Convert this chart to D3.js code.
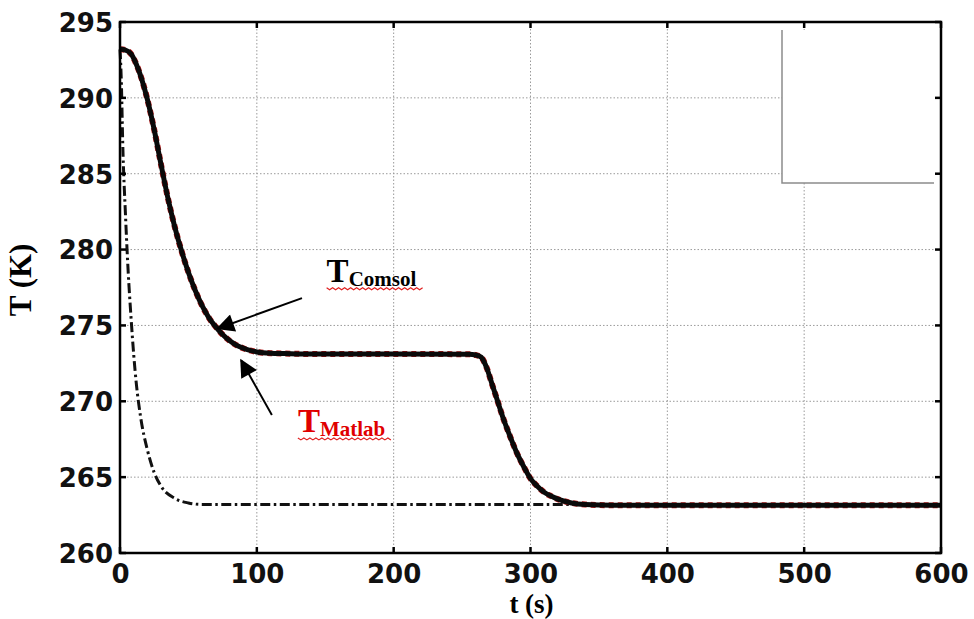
<!DOCTYPE html>
<html>
<head>
<meta charset="utf-8">
<script src="https://cdn.jsdelivr.net/npm/d3@7"></script>
<style>
  body { margin: 0; background: #fff; }
  svg { display: block; }
</style>
</head>
<body>
<svg id="chart" width="974" height="619"></svg>
<script>
// readings
const xTicks = [0, 100, 200, 300, 400, 500, 600];
const yTicks = [260, 265, 270, 275, 280, 285, 290, 295];

const timeMain = [0, 4, 8, 12, 16, 20, 25, 30, 35, 40, 45, 50, 55, 60, 65, 70, 75, 80, 85, 90, 95, 100, 110, 120, 140, 200, 255, 260, 264, 268, 272, 276, 280, 285, 290, 295, 300, 305, 310, 315, 320, 330, 340, 360, 600];
const tempComsol = [293.2, 293.15, 292.9, 292.2, 291.2, 289.9, 287.9, 285.6, 283.4, 281.5, 279.9, 278.5, 277.3, 276.3, 275.5, 274.9, 274.4, 274.0, 273.7, 273.5, 273.35, 273.25, 273.17, 273.15, 273.12, 273.12, 273.1, 273.05, 272.9, 272.2, 271.1, 270.0, 268.9, 267.7, 266.6, 265.7, 264.9, 264.4, 264.0, 263.75, 263.55, 263.3, 263.2, 263.15, 263.15];
const tempMatlab = [293.2, 293.15, 292.9, 292.2, 291.2, 289.9, 287.9, 285.6, 283.4, 281.5, 279.9, 278.5, 277.3, 276.3, 275.5, 274.9, 274.4, 274.0, 273.7, 273.5, 273.35, 273.25, 273.17, 273.15, 273.12, 273.12, 273.1, 273.05, 272.9, 272.2, 271.1, 270.0, 268.9, 267.7, 266.6, 265.7, 264.9, 264.4, 264.0, 263.75, 263.55, 263.3, 263.2, 263.15, 263.15];

const timeFast = [0, 1, 2, 4, 6, 8, 10, 12, 15, 20, 25, 30, 40, 50, 60, 600];
const tempFast = [293.2, 291.0, 287.0, 282.3, 278.5, 275.6, 273.1, 271.1, 269.0, 266.8, 265.3, 264.4, 263.6, 263.3, 263.2, 263.2];

const svg = d3.select("#chart");
const margin = { top: 22, right: 33, bottom: 66, left: 120 };
const width = 974 - margin.left - margin.right;
const height = 619 - margin.top - margin.bottom;

const chart = svg.append("g")
  .attr("transform", `translate(${margin.left}, ${margin.top})`);

const x = d3.scaleLinear().domain([0, 600]).range([0, width]);
const y = d3.scaleLinear().domain([260, 295]).range([height, 0]);

// grid
chart.append("g")
  .selectAll("line")
  .data(xTicks.slice(1, -1))
  .enter()
  .append("line")
  .attr("x1", d => x(d)).attr("x2", d => x(d))
  .attr("y1", 0).attr("y2", height)
  .attr("stroke", "#9a9a9a")
  .attr("stroke-width", 1)
  .attr("stroke-dasharray", "1.5,2");
chart.append("g")
  .selectAll("line")
  .data(yTicks.slice(1, -1))
  .enter()
  .append("line")
  .attr("x1", 0).attr("x2", width)
  .attr("y1", d => y(d)).attr("y2", d => y(d))
  .attr("stroke", "#9a9a9a")
  .attr("stroke-width", 1)
  .attr("stroke-dasharray", "1.5,2");

// empty legend box
chart.append("rect")
  .attr("x", 662).attr("y", 8)
  .attr("width", 152).attr("height", 153)
  .attr("fill", "#fff");
chart.append("path")
  .attr("d", "M662,8 V161 H814")
  .attr("fill", "none")
  .attr("stroke", "#8c8c8c")
  .attr("stroke-width", 1.5);

// curves
const line = d3.line()
  .x(d => x(d[0]))
  .y(d => y(d[1]))
  .curve(d3.curveMonotoneX);

chart.append("path")
  .attr("d", line(timeFast.map((t, i) => [t, tempFast[i]])))
  .attr("fill", "none")
  .attr("stroke", "#111")
  .attr("stroke-width", 3)
  .attr("stroke-dasharray", "10,3.5,2.5,3.5");

chart.append("path")
  .attr("d", line(timeMain.map((t, i) => [t, tempMatlab[i]])))
  .attr("fill", "none")
  .attr("stroke", "#b81818")
  .attr("stroke-width", 6)
  .attr("stroke-dasharray", "5,4");

chart.append("path")
  .attr("d", line(timeMain.map((t, i) => [t, tempComsol[i]])))
  .attr("fill", "none")
  .attr("stroke", "#0a0a0a")
  .attr("stroke-width", 5);

// axes
const font = "'DejaVu Sans', sans-serif";
const xAxis = chart.append("g")
  .attr("transform", `translate(0, ${height})`)
  .call(d3.axisBottom(x).tickValues(xTicks).tickSize(0).tickPadding(12));
const yAxis = chart.append("g")
  .call(d3.axisLeft(y).tickValues(yTicks).tickSize(0).tickPadding(7));
[xAxis, yAxis].forEach(a => {
  a.select(".domain").remove();
  a.selectAll("text")
    .style("font-family", font)
    .style("font-weight", "bold")
    .style("font-size", "26px")
    .attr("fill", "#111");
});
yAxis.selectAll("text").attr("dy", "0.36em");

// inward ticks on all four sides
const tickLen = 6;
const ticks = chart.append("g").attr("stroke", "#000").attr("stroke-width", 2.5);
xTicks.forEach(t => {
  ticks.append("line").attr("x1", x(t)).attr("x2", x(t)).attr("y1", height).attr("y2", height - tickLen);
  ticks.append("line").attr("x1", x(t)).attr("x2", x(t)).attr("y1", 0).attr("y2", tickLen);
});
yTicks.forEach(v => {
  ticks.append("line").attr("x1", 0).attr("x2", tickLen).attr("y1", y(v)).attr("y2", y(v));
  ticks.append("line").attr("x1", width).attr("x2", width - tickLen).attr("y1", y(v)).attr("y2", y(v));
});

chart.append("rect")
  .attr("width", width).attr("height", height)
  .attr("fill", "none")
  .attr("stroke", "#000")
  .attr("stroke-width", 2.5);

// axis titles
const serif = "'Liberation Serif', 'Times New Roman', serif";
svg.append("text")
  .attr("x", margin.left + x(300) + 1)
  .attr("y", 613)
  .attr("text-anchor", "middle")
  .style("font-family", serif)
  .style("font-weight", "bold")
  .style("font-size", "27px")
  .text("t (s)");
svg.append("text")
  .attr("transform", `translate(31, ${margin.top + y(278)}) rotate(-90)`)
  .attr("text-anchor", "middle")
  .style("font-family", serif)
  .style("font-weight", "bold")
  .style("font-size", "31px")
  .text("T (K)");

// annotations
const defs = svg.append("defs");
defs.append("marker")
  .attr("id", "head")
  .attr("viewBox", "0 0 10 10")
  .attr("refX", 9).attr("refY", 5)
  .attr("markerWidth", 20).attr("markerHeight", 18)
  .attr("markerUnits", "userSpaceOnUse")
  .attr("orient", "auto")
  .append("path")
  .attr("d", "M0,0 L10,5 L0,10 z")
  .attr("fill", "#000");

const arrows = [
  { from: [133, 276.8], to: [71.5, 274.8] },
  { from: [111, 269.1], to: [88.5, 272.7] },
];
arrows.forEach(a => {
  chart.append("line")
    .attr("x1", x(a.from[0])).attr("y1", y(a.from[1]))
    .attr("x2", x(a.to[0])).attr("y2", y(a.to[1]))
    .attr("stroke", "#000")
    .attr("stroke-width", 2)
    .attr("marker-end", "url(#head)");
});

const labels = [
  { at: [151, 277.85], main: "T", sub: "Comsol", color: "#000", width: 98 },
  { at: [130, 267.95], main: "T", sub: "Matlab", color: "#e00000", width: 95 },
];
labels.forEach(l => {
  const lx = x(l.at[0]);
  const ly = y(l.at[1]);
  const t = chart.append("text")
    .attr("x", lx).attr("y", ly)
    .style("font-family", serif)
    .style("font-weight", "bold")
    .attr("fill", l.color);
  t.append("tspan").style("font-size", "33px").text(l.main);
  t.append("tspan").attr("dy", 4).style("font-size", "21px").text(l.sub);
  // spell-check squiggle
  const pts = d3.range(0, l.width + 1, 3).map((d, i) => [lx + d, ly + 6 + (i % 2 ? 1.5 : -0.5)]);
  chart.append("path")
    .attr("d", d3.line()(pts))
    .attr("fill", "none")
    .attr("stroke", "#e02020")
    .attr("stroke-width", 1.2);
});
</script>
</body>
</html>
